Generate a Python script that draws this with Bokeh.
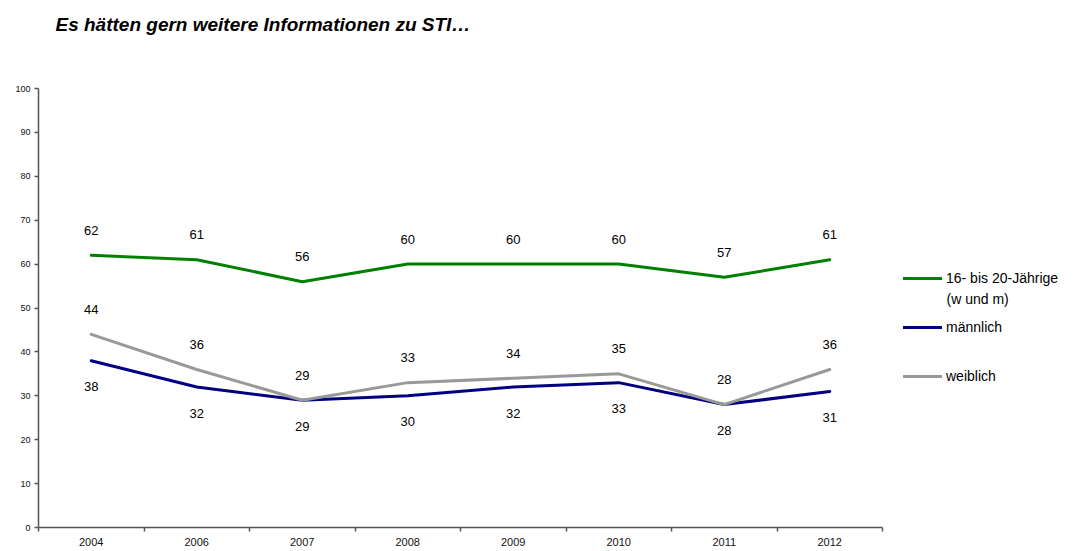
from bokeh.plotting import figure
from bokeh.models import (ColumnDataSource, LabelSet, Label, Legend, LegendItem,
                          Range1d, FixedTicker)
from bokeh.core.properties import value
from bokeh.embed import file_html
from bokeh.resources import INLINE

# ---- data ----
years = ["2004", "2006", "2007", "2008", "2009", "2010", "2011", "2012"]
gesamt = [62, 61, 56, 60, 60, 60, 57, 61]       # 16- bis 20-Jährige (w und m)
maennlich = [38, 32, 29, 30, 32, 33, 28, 31]
weiblich = [44, 36, 29, 33, 34, 35, 28, 36]
series_names = ["16- bis 20-Jährige", "männlich", "weiblich"]
legend_extra = "(w und m)"
title_text = "Es hätten gern weitere Informationen zu STI…"
y_ticks = list(range(0, 101, 10))
y_max = 100

# ---- layout (pixels) ----
FONT = "Liberation Sans"
W, H = 1080, 550
LEFT = 38            # y axis position
PLOT_W = 844         # width of the data area
PLOT_TOP = 88        # pixel row of y = 100
PLOT_BOTTOM = 527    # pixel row of y = 0
n = len(years)
xs = [i + 0.5 for i in range(n)]
x_end = n * (W - LEFT) / PLOT_W
y_end = y_max * PLOT_BOTTOM / (PLOT_BOTTOM - PLOT_TOP)

p = figure(width=W, height=H, output_backend="svg", toolbar_location=None,
           x_range=Range1d(0, x_end), y_range=Range1d(0, y_end),
           min_border_left=LEFT, min_border_right=0, min_border_top=0,
           min_border_bottom=H - PLOT_BOTTOM, background_fill_color="white",
           border_fill_color="white")
p.outline_line_color = None
p.xgrid.visible = False
p.ygrid.visible = False

AX = "#555555"
# x axis
xa = p.xaxis[0]
xa.ticker = FixedTicker(ticks=xs, minor_ticks=list(range(n + 1)))
xa.major_label_overrides = {x: y for x, y in zip(xs, years)}
xa.bounds = (0, n)
xa.axis_line_color = AX
xa.axis_line_width = 1.5
xa.major_tick_line_color = None
xa.major_tick_out = 4
xa.major_tick_in = 0
xa.minor_tick_line_color = AX
xa.minor_tick_line_width = 1.5
xa.minor_tick_out = 4
xa.minor_tick_in = 0
xa.major_label_standoff = 6
xa.major_label_text_font = FONT
xa.major_label_text_font_size = "11px"
xa.major_label_text_color = "#111111"

# y axis
ya = p.yaxis[0]
ya.ticker = FixedTicker(ticks=y_ticks, minor_ticks=[])
ya.bounds = (0, y_max)
ya.axis_line_color = AX
ya.axis_line_width = 1.5
ya.major_tick_line_color = AX
ya.major_tick_line_width = 1.5
ya.major_tick_out = 4
ya.major_tick_in = 0
ya.minor_tick_line_color = None
ya.major_label_standoff = 4
ya.major_label_text_font = FONT
ya.major_label_text_font_size = "9px"
ya.major_label_text_color = "#111111"

colors = ["#008000", "#000080", "#999999"]
series = [gesamt, maennlich, weiblich]
offsets = [25, -26, 25]

renderers = []
for vals, col, off in zip(series, colors, offsets):
    r = p.line(xs, vals, line_color=col, line_width=3, line_join="round",
               line_cap="round")
    renderers.append(r)
    src = ColumnDataSource(dict(x=xs, y=vals, t=[str(v) for v in vals]))
    p.add_layout(LabelSet(x="x", y="y", text="t", source=src, y_offset=off,
                          text_align="center", text_baseline="middle",
                          text_font=value(FONT), text_font_size=value("13px"),
                          text_color="#000000"))

# legend (location = bottom-left corner, relative to the plot frame)
legend = Legend(items=[LegendItem(label=nm, renderers=[r])
                       for nm, r in zip(series_names, renderers)],
                location=(865, 141), padding=0, margin=0, spacing=29,
                glyph_width=39, glyph_height=20, label_height=20,
                label_standoff=4, border_line_color=None,
                background_fill_alpha=0, label_text_font=FONT,
                label_text_font_size="14px", label_text_color="#000000")
p.add_layout(legend)

p.add_layout(Label(x=908, y=229, x_units="screen", y_units="screen",
                   text=legend_extra, text_font=FONT, text_font_size="14px",
                   text_baseline="middle", text_align="left",
                   text_color="#000000"))

p.add_layout(Label(x=17, y=PLOT_BOTTOM - 24, x_units="screen", y_units="screen",
                   text=title_text, text_font=FONT, text_font_size="19px",
                   text_font_style="bold italic", text_baseline="middle",
                   text_align="left", text_color="#000000"))

open("out.html", "w").write(file_html(p, INLINE))
